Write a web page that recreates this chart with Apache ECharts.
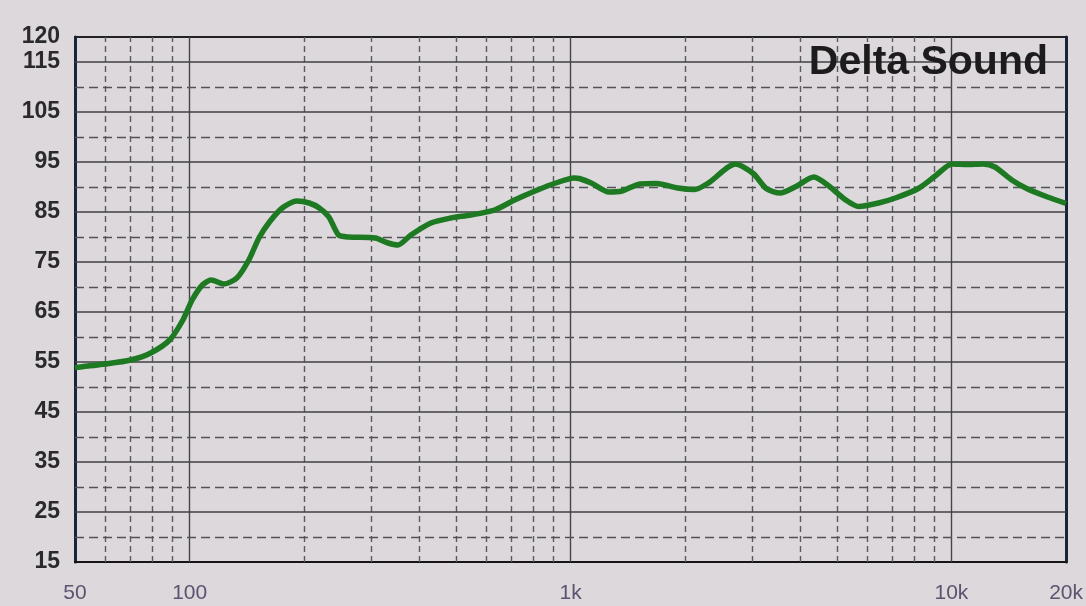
<!DOCTYPE html>
<html><head><meta charset="utf-8">
<script src="https://cdn.jsdelivr.net/npm/echarts@6/dist/echarts.min.js"></script>
<style>html,body{margin:0;padding:0;background:#dcd8dc}#c{width:1086px;height:606px}</style>
</head><body><div id="c"></div>
<script>
// Frequency response (Hz) and level (dB)
const freqHz = [50, 60, 70, 79, 88.6, 96, 101.5, 108, 114, 123, 133, 143, 152, 162, 175, 191, 206, 219, 232, 246, 261, 307, 332, 352, 381, 430, 485, 547, 632, 713, 819, 923, 1022, 1054, 1133, 1262, 1365, 1520, 1684, 1911, 2116, 2302, 2709, 3018, 3264, 3550, 3908, 4355, 4766, 5280, 5707, 6438, 7129, 8187, 9068, 10045, 11057, 12102, 13006, 14400, 15854, 17886, 20000];
const splDb = [53.9, 54.6, 55.4, 56.8, 59.4, 63.4, 67.4, 70.4, 71.4, 70.6, 71.8, 75.4, 79.8, 83.0, 85.8, 87.2, 86.8, 85.8, 84.0, 80.4, 80.0, 79.8, 78.8, 78.4, 80.4, 82.8, 83.8, 84.4, 85.4, 87.4, 89.4, 90.9, 91.8, 91.7, 90.8, 89.0, 89.2, 90.6, 90.7, 89.8, 89.5, 90.8, 94.6, 92.7, 89.7, 88.8, 90.1, 92.0, 90.2, 87.4, 86.1, 86.8, 87.8, 89.7, 92.2, 94.6, 94.5, 94.6, 94.0, 91.4, 89.6, 88.0, 86.7];

const yTickLabels = [15, 25, 35, 45, 55, 65, 75, 85, 95, 105, 115, 120];
const xTickLabels = {50: '50', 100: '100', 1000: '1k', 10000: '10k', 20000: '20k'};
const xMajorLines = [100, 1000, 10000];
const xMinorLines = [60, 70, 80, 90, 200, 300, 400, 500, 600, 700, 800, 900, 2000, 3000, 4000, 5000, 6000, 7000, 8000, 9000];
const ySolidLines = [25, 35, 45, 55, 65, 75, 85, 95, 105, 115];
const yDashedLines = [20, 30, 40, 50, 60, 70, 80, 90, 100, 110];
const titleText = 'Delta Sound';

const chart = echarts.init(document.getElementById('c'), null, {renderer: 'canvas'});
const gridMarks = [].concat(
  xMajorLines.map(v => ({xAxis: v, lineStyle: {type: 'solid', color: '#46464a', width: 1.4}})),
  xMinorLines.map(v => ({xAxis: v, lineStyle: {type: [6, 4], color: '#5a5a60', width: 1.4}})),
  ySolidLines.map(v => ({yAxis: v, lineStyle: {type: 'solid', color: '#414145', width: 1.6}})),
  yDashedLines.map(v => ({yAxis: v, lineStyle: {type: [9, 5], color: '#525257', width: 1.4}}))
);

chart.setOption({
  backgroundColor: '#dcd8dc',
  animation: false,
  title: {
    text: titleText, right: 33, top: 37,
    textStyle: {fontFamily: 'Liberation Sans, Arial, sans-serif', fontSize: 41, fontWeight: 'bold', color: '#1c1c1c'}
  },
  grid: {left: 75, right: 14, top: 37, bottom: 44, show: true, borderColor: '#222', borderWidth: 2, backgroundColor: 'transparent'},
  xAxis: {
    type: 'log', logBase: 10, min: 50, max: 20000,
    axisLine: {show: true, onZero: false, lineStyle: {color: '#151515', width: 2}},
    axisTick: {show: false},
    splitLine: {show: false},
    minorSplitLine: {show: false},
    axisLabel: {
      margin: 21, fontSize: 21, color: '#5a5470', fontFamily: 'Liberation Sans, Arial, sans-serif',
      formatter: v => xTickLabels[Math.round(v)] || ''
    }
  },
  yAxis: [{
    type: 'value', min: 15, max: 120, interval: 5,
    axisLine: {show: true, onZero: false, lineStyle: {color: '#18243a', width: 3}},
    axisTick: {show: false},
    splitLine: {show: false},
    axisLabel: {
      margin: 15, fontSize: 23, fontWeight: 'bold', color: '#2a2a2a', fontFamily: 'Liberation Sans, Arial, sans-serif',
      formatter: v => yTickLabels.indexOf(Math.round(v)) >= 0 ? String(Math.round(v)) : ''
    }
  }, {
    type: 'value', min: 15, max: 120, position: 'right',
    axisLine: {show: true, onZero: false, lineStyle: {color: '#18243a', width: 3}},
    axisTick: {show: false}, axisLabel: {show: false}, splitLine: {show: false}
  }],
  series: [{
    type: 'line', data: [], z: 1, silent: true,
    markLine: {silent: true, symbol: 'none', label: {show: false}, animation: false, data: gridMarks}
  }, {
    type: 'line', z: 5,
    data: freqHz.map((f, i) => [f, splDb[i]]),
    showSymbol: false, smooth: 0.25,
    lineStyle: {color: '#1e7a22', width: 5.5}
  }]
});
</script></body></html>
